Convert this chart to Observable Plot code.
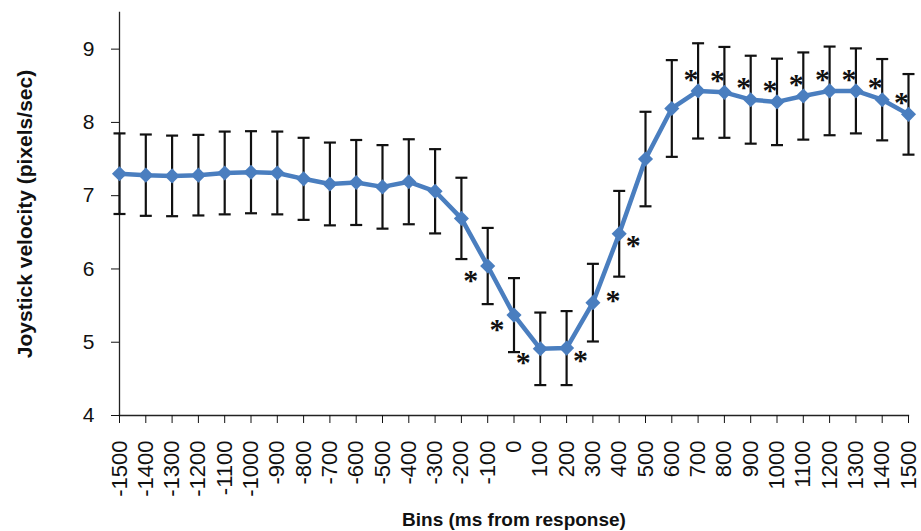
<!DOCTYPE html>
<html>
<head>
<meta charset="utf-8">
<script src="https://cdn.jsdelivr.net/npm/d3@7"></script>
<script src="https://cdn.jsdelivr.net/npm/@observablehq/plot@0.6"></script>
<style>
  html, body { margin: 0; padding: 0; background: #fff; }
  g[aria-label="x-axis label"] text { font-weight: bold; font-size: 19px; }
  g[aria-label="y-axis label"] text { font-weight: bold; font-size: 21px; }
</style>
</head>
<body>
<div id="chart"></div>
<script>
// Bins (ms from response)
const bins = [-1500,-1400,-1300,-1200,-1100,-1000,-900,-800,-700,-600,-500,-400,-300,-200,-100,0,
  100,200,300,400,500,600,700,800,900,1000,1100,1200,1300,1400,1500];
// Mean joystick velocity (pixels/sec)
const means = [7.30,7.28,7.27,7.28,7.31,7.32,7.31,7.23,7.16,7.18,7.12,7.19,7.06,6.69,6.04,5.37,
  4.91,4.92,5.54,6.48,7.50,8.19,8.43,8.41,8.31,8.28,8.36,8.43,8.43,8.31,8.11];
// Error bar half-lengths
const errors = [0.55,0.555,0.55,0.55,0.565,0.56,0.565,0.56,0.565,0.58,0.57,0.58,0.575,0.555,0.52,0.505,
  0.495,0.505,0.53,0.585,0.645,0.66,0.65,0.62,0.60,0.59,0.595,0.605,0.58,0.555,0.55];
// Significance marker placement ("" = not significant)
const stars = ["","","","","","","","","","","","","","","belowLeft","belowLeft",
  "belowLeft","belowRight","right","belowRight","","","above","above","above","above","above","above","above","above","above"];
const yTicks = [4,5,6,7,8,9];

const data = bins.map((b, i) => ({bin: b, mean: means[i], se: errors[i], star: stars[i]}));

const blue = "#4a7ebf";
const capSymbol = {
  draw(context, size) {
    const w = Math.sqrt(size / Math.PI);
    context.moveTo(-w, 0);
    context.lineTo(w, 0);
  }
};
const starOffsets = {
  above: {dx: -7, dy: -12},
  belowLeft: {dx: -17, dy: 14},
  belowRight: {dx: 14, dy: 12},
  right: {dx: 20, dy: -2}
};
const starMarks = Object.entries(starOffsets).map(([k, o]) =>
  Plot.text(data.filter(d => d.star === k), {
    x: "bin", y: "mean", text: () => "*", dx: o.dx, dy: o.dy,
    fontSize: 30, fontWeight: "bold", fontFamily: "Liberation Serif, serif", fill: "#111"
  })
);

const chart = Plot.plot({
  width: 921,
  height: 531,
  marginLeft: 119,
  marginRight: 13,
  marginTop: 12,
  marginBottom: 116,
  style: {fontFamily: "Liberation Sans, Arial, sans-serif", background: "#fff", color: "#111"},
  x: {domain: [-1500, 1500]},
  y: {domain: [4, 9.5]},
  marks: [
    Plot.frame({anchor: "left", stroke: "#222", strokeWidth: 1.3}),
    Plot.frame({anchor: "bottom", stroke: "#222", strokeWidth: 1.3}),
    Plot.axisY({ticks: yTicks, tickSize: 8, tickPadding: 17, fontSize: 21, tickFormat: d => String(d),
      label: "Joystick velocity (pixels/sec)", labelAnchor: "center", labelOffset: 102, labelArrow: "none"}),
    Plot.axisX({ticks: bins, tickSize: 8, tickPadding: 17, tickRotate: -90, fontSize: 22,
      tickFormat: d => String(d),
      label: "Bins (ms from response)", labelAnchor: "center", labelOffset: 110, labelArrow: "none"}),
    Plot.ruleX(data, {x: "bin", y1: d => d.mean - d.se, y2: d => d.mean + d.se, stroke: "#111", strokeWidth: 2.2}),
    Plot.dot(data, {x: "bin", y: d => d.mean - d.se, symbol: capSymbol, r: 6, stroke: "#111", strokeWidth: 2.2, fill: "none"}),
    Plot.dot(data, {x: "bin", y: d => d.mean + d.se, symbol: capSymbol, r: 6, stroke: "#111", strokeWidth: 2.2, fill: "none"}),
    Plot.line(data, {x: "bin", y: "mean", stroke: blue, strokeWidth: 4.5}),
    Plot.dot(data, {x: "bin", y: "mean", symbol: "diamond2", r: 6.8, fill: blue, stroke: "none"}),
    ...starMarks
  ]
});
document.getElementById("chart").appendChild(chart);
</script>
</body>
</html>
